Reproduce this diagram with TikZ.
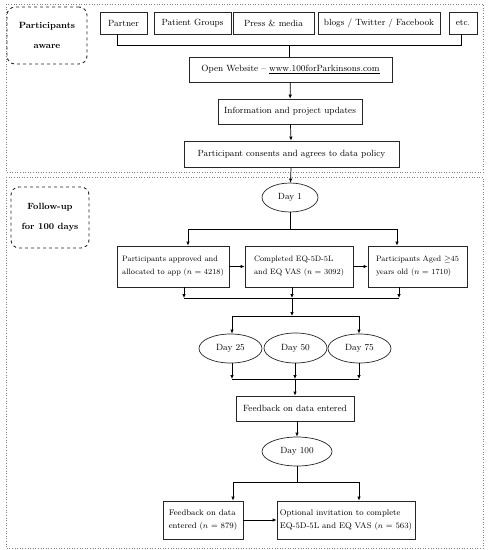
\documentclass[tikz,border=0pt]{standalone}
\usetikzlibrary{shapes.geometric,arrows.meta}
\begin{document}
\begin{tikzpicture}[x=1pt,y=-1pt,
  box/.style={draw=black!85,line width=0.7pt,inner sep=0pt,align=center,font=\fontsize{9}{13}\selectfont,minimum height=22pt},
  lbox/.style={draw=black!85,line width=0.7pt,inner sep=0pt,align=left,font=\fontsize{7.8}{13}\selectfont},
  oval/.style={ellipse,draw=black!85,line width=0.7pt,inner sep=0pt,font=\fontsize{9}{13}\selectfont},
  lab/.style={draw=black!85,dashed,line width=0.9pt,rounded corners=8pt,align=center,inner sep=0pt,font=\bfseries\fontsize{9}{20}\selectfont},
  frame/.style={draw=black!50,dotted,line width=0.6pt},
  arr/.style={-{Latex[length=4pt,width=3.5pt]},line width=0.7pt},
  ln/.style={line width=0.7pt}]
\useasboundingbox (0,0) rectangle (488,550);
\draw[frame] (6,4) rectangle (483,172);
\draw[frame] (6,177) rectangle (483,548);
\node[lab,minimum width=80pt,minimum height=57pt] (aware) at (47,35.5) {Participants\\aware};
\node[lab,minimum width=78pt,minimum height=61pt] (follow) at (50,217.5) {Follow-up\\for 100 days};
\node[box,minimum width=47pt] (partner) at (123.5,23) {Partner};
\node[box,minimum width=77pt] (groups) at (192.5,23) {Patient Groups};
\node[box,minimum width=81pt] (press) at (273.5,23) {Press \& media};
\node[box,minimum width=122pt] (blogs) at (379,23) {blogs / Twitter / Facebook};
\node[box,minimum width=28pt] (etc) at (463,23) {etc.};
\node[box,minimum width=203pt,minimum height=25pt] (web) at (290.5,69.5) {Open Website -- \underline{www.100forParkinsons.com}};
\node[box,minimum width=144pt,minimum height=25pt] (info) at (290,111.5) {Information and project updates};
\node[box,minimum width=215pt,minimum height=26pt] (consent) at (291.5,154) {Participant consents and agrees to data policy};
\node[oval,minimum width=56pt,minimum height=29pt] (day1) at (290,197.5) {Day 1};
\node[lbox,minimum width=112pt,minimum height=41pt] (boxA) at (173,266.5) {Participants approved and\\allocated to app ($n$ = 4218)};
\node[lbox,minimum width=108pt,minimum height=41pt] (boxB) at (299,266.5) {Completed EQ-5D-5L\\and EQ VAS ($n$ = 3092)};
\node[lbox,minimum width=99pt,minimum height=41pt] (boxC) at (417.5,266.5) {Participants Aged $\geq$45\\years old ($n$ = 1710)};
\node[oval,minimum width=63pt,minimum height=29pt] (day25) at (230.5,348.5) {Day 25};
\node[oval,minimum width=63pt,minimum height=30pt] (day50) at (295.5,348) {Day 50};
\node[oval,minimum width=63pt,minimum height=29pt] (day75) at (359.5,348.5) {Day 75};
\node[box,minimum width=118pt,minimum height=25pt] (fb) at (295,408.5) {Feedback on data entered};
\node[oval,minimum width=70pt,minimum height=29pt] (day100) at (297,451.5) {Day 100};
\node[lbox,font=\fontsize{8.2}{13}\selectfont,minimum width=80pt,minimum height=38pt] (boxD) at (203,520) {Feedback on data\\entered ($n$ = 879)};
\node[lbox,font=\fontsize{8.2}{13}\selectfont,minimum width=138pt,minimum height=38pt] (boxE) at (346,520) {Optional invitation to complete\\EQ-5D-5L and EQ VAS ($n$ = 563)};
% top bracket
\coordinate (bl) at (117,45);
\coordinate (br) at (461,45);
\coordinate (bm) at (289,45);
\draw[ln] (bl |- partner.south) -- (bl) -- (br) -- (br |- etc.south);
\draw[ln] (bm) -- (bm |- web.north);
\draw[arr] (web) -- (info);
\draw[arr] (info) -- (consent);
\draw[arr] (consent) -- (day1);
% day 1 split
\coordinate (s1m) at (290,229);
\coordinate (s1l) at (188,229);
\coordinate (s1r) at (397,229);
\draw[ln] (day1.south) -- (s1m);
\draw[ln] (s1l) -- (s1r);
\draw[arr] (s1l) -- (s1l |- boxA.north);
\draw[arr] (s1r) -- (s1r |- boxC.north);
\draw[arr] (boxA) -- (boxB);
\draw[arr] (boxB) -- (boxC);
% merge below boxes
\coordinate (m1l) at (184,298);
\coordinate (m1m) at (292,298);
\coordinate (m1r) at (399,298);
\draw[arr] (m1l |- boxA.south) -- (m1l);
\draw[arr] (m1m |- boxB.south) -- (m1m);
\draw[arr] (m1r |- boxC.south) -- (m1r);
\draw[ln] (m1l) -- (m1r);
\coordinate (s2m) at (292,316);
\coordinate (s2l) at (232,316);
\coordinate (s2r) at (359,316);
\draw[arr] (m1m) -- (s2m);
\draw[ln] (s2l) -- (s2r);
\draw[arr] (s2l) -- (s2l |- day25.north);
\draw[arr] (s2r) -- (s2r |- day75.north);
% merge below ovals
\coordinate (m2l) at (232,379);
\coordinate (m2m) at (295,379);
\coordinate (m2r) at (359,379);
\draw[arr] (m2l |- day25.south) -- (m2l);
\draw[arr] (m2m |- day50.south) -- (m2m);
\draw[arr] (m2r |- day75.south) -- (m2r);
\draw[ln] (m2l) -- (m2r);
\draw[arr] (m2m) -- (m2m |- fb.north);
\draw[arr] (fb.south -| day100.north) -- (day100.north);
% day 100 split
\coordinate (s3m) at (297,482);
\coordinate (s3l) at (233,482);
\coordinate (s3r) at (359,482);
\draw[ln] (day100.south) -- (s3m);
\draw[ln] (s3l) -- (s3r);
\draw[arr] (s3l) -- (s3l |- boxD.north);
\draw[arr] (s3r) -- (s3r |- boxE.north);
\draw[arr] (boxD) -- (boxE);
\end{tikzpicture}
\end{document}
